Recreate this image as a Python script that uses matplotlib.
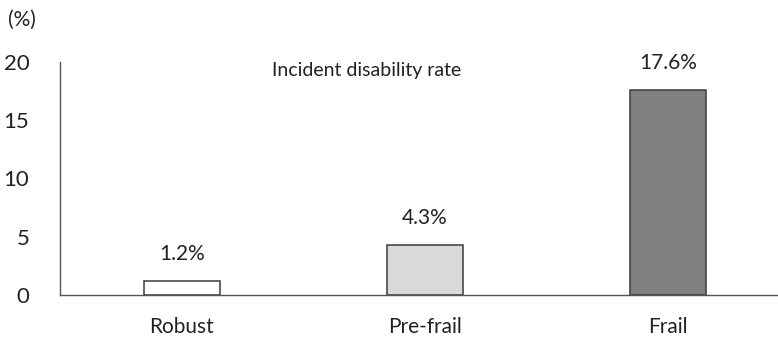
import matplotlib.pyplot as plt

groups = ['Robust', 'Pre-frail', 'Frail']
rates = [1.2, 4.3, 17.6]
fills = ['white', '#d9d9d9', '#808080']
yticks = [0, 5, 10, 15, 20]

plt.rcParams['font.family'] = ['Lato', 'DejaVu Sans']

fig = plt.figure(figsize=(7.78, 3.39), dpi=100)
ax = fig.add_axes([60 / 778, 44 / 339, 718 / 778, 233 / 339])

x = range(len(groups))
bars = ax.bar(x, rates, width=0.313, color=fills, edgecolor='#3a3a3a', linewidth=1.1)

for xi, v in zip(x, rates):
    ax.annotate(f'{v}%', (xi, v), xytext=(0, 12), textcoords='offset points',
                ha='center', va='bottom', fontsize=15, color='#222222')

ax.set_xlim(-0.502, 2.453)
ax.set_ylim(0, 20)
ax.set_yticks(yticks)
ax.set_xticks(list(x))
ax.set_xticklabels(groups)
ax.tick_params(axis='y', length=0, pad=22, labelsize=16, labelcolor='#222222')
ax.tick_params(axis='x', length=0, pad=16, labelsize=15, labelcolor='#222222')

for s in ['top', 'right']:
    ax.spines[s].set_visible(False)
for s in ['left', 'bottom']:
    ax.spines[s].set_color('#555555')
    ax.spines[s].set_linewidth(1.0)

ax.text(0.427, 0.965, 'Incident disability rate', transform=ax.transAxes,
        ha='center', va='center', fontsize=14, color='#222222')
fig.text(8 / 778, 1 - 20 / 339, '(%)', ha='left', va='center', fontsize=15, color='#222222')

fig.savefig('out.png', dpi=100)
